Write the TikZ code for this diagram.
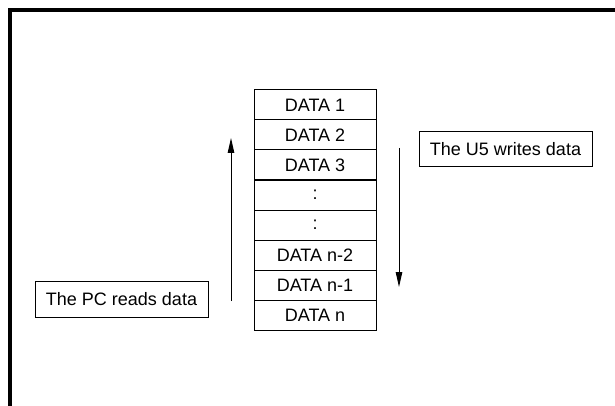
\documentclass[tikz,border=0pt]{standalone}
\usepackage{fontspec}
\setmainfont{Liberation Sans}
\usetikzlibrary{arrows.meta}
\begin{document}
\begin{tikzpicture}[x=1pt,y=-1pt,
  cell/.style={draw=black,line width=1pt,minimum width=122pt,minimum height=30pt,inner sep=0pt,outer sep=0pt,font=\fontsize{18}{20}\selectfont},
  label/.style={draw=black,line width=1pt,inner sep=0pt,outer sep=0pt,font=\fontsize{18}{20}\selectfont},
  flow/.style={line width=1pt,-{Triangle[length=15pt,width=6.5pt]}}]
\useasboundingbox (0,0) rectangle (615,406);
\fill[white] (0,0) rectangle (615,406);
\draw[line width=3.2pt] (10,406) -- (10,10) -- (615,10);
\node[cell] (d1) at (315,105) {DATA 1};
\node[cell] (d2) at (315,135) {DATA 2};
\node[cell] (d3) at (315,165) {DATA 3};
\node[cell] (d4) at (315,195) {:};
\node[cell] (d5) at (315,225) {:};
\node[cell] (d6) at (315,255) {DATA n-2};
\node[cell] (d7) at (315,285) {DATA n-1};
\node[cell] (d8) at (315,315) {DATA n};
\node[label,minimum width=173pt,minimum height=36pt] (pc) at (121.5,299) {The PC reads data};
\node[label,minimum width=173pt,minimum height=35pt] (u5) at (505.5,149.2) {The U5 writes data};
\coordinate (ua) at (231,301);
\coordinate (ub) at (231,138);
\coordinate (da) at (399,148);
\coordinate (db) at (399,287);
\draw[flow] (ua) -- (ub);
\draw[flow] (da) -- (db);
\end{tikzpicture}
\end{document}
